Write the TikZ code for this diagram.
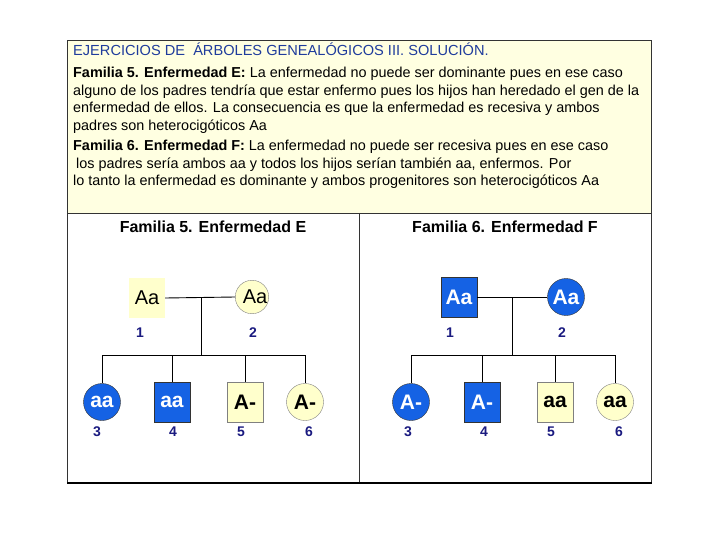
\documentclass[tikz,border=0pt]{standalone}
\usepackage{fontspec}
\setmainfont{Liberation Sans}
\usetikzlibrary{positioning}
\definecolor{cream}{HTML}{FFFFE1}
\definecolor{paleyel}{HTML}{FFFFCC}
\definecolor{sickblue}{HTML}{1562E4}
\definecolor{titleblue}{HTML}{1F3C9C}
\definecolor{navy}{HTML}{1A1A80}
\begin{document}
\begin{tikzpicture}[x=1pt,y=-1pt,
    male/.style={rectangle, minimum width=36pt, minimum height=40pt, inner sep=0pt},
    female/.style={circle, minimum size=37pt, inner sep=0pt},
    sick/.style={fill=sickblue, draw=black!80, text=white},
    healthy/.style={fill=paleyel, draw=black!50},
    geno/.style={font=\fontsize{21}{21}\selectfont\bfseries},
    num/.style={font=\fontsize{14}{14}\selectfont\bfseries, text=navy},
    txt/.style={anchor=base west, inner sep=0pt, font=\fontsize{14.4}{14.4}\selectfont},
    kin/.style={draw=black, line width=0.9pt}]
    \useasboundingbox (0,0) rectangle (720,540);
    % Frame
    \fill[cream] (67,40) rectangle (651,213);
    \draw[black!80, line width=0.8pt] (67,40) rectangle (651,483);
    \draw[black!80, line width=0.8pt] (67,213) -- (651,213);
    \draw[black!80, line width=0.8pt] (359,213) -- (359,483);
    \draw[black, line width=2pt] (67,483) -- (652,483);
    % Explanation text
    \node[txt, text=titleblue, font=\fontsize{14.6}{14.6}\selectfont] (t0) at (73,56) {EJERCICIOS DE \ ÁRBOLES GENEALÓGICOS III. SOLUCIÓN.};
    \node[txt] (t1) at (73,78) {\textbf{Familia 5. Enfermedad E:} La enfermedad no puede ser dominante pues en ese caso};
    \node[txt] (t2) at (73,96) {alguno de los padres tendría que estar enfermo pues los hijos han heredado el gen de la};
    \node[txt] (t3) at (73,113) {enfermedad de ellos. La consecuencia es que la enfermedad es recesiva y ambos};
    \node[txt] (t4) at (73,131) {padres son heterocigóticos Aa};
    \node[txt] (t5) at (73,151) {\textbf{Familia 6. Enfermedad F:} La enfermedad no puede ser recesiva pues en ese caso};
    \node[txt] (t6) at (76,169) {los padres sería ambos aa y todos los hijos serían también aa, enfermos. Por};
    \node[txt] (t7) at (73,186) {lo tanto la enfermedad es dominante y ambos progenitores son heterocigóticos Aa};
    % Headings
    \node[font=\fontsize{16}{16}\selectfont\bfseries] (h5) at (213,227) {Familia 5. Enfermedad E};
    \node[font=\fontsize{16}{16}\selectfont\bfseries] (h6) at (505,227) {Familia 6. Enfermedad F};

    % Familia 5
    \node[male, fill=paleyel, font=\fontsize{20}{20}\selectfont] (a1) at (147,298) {Aa};
    \node[circle, minimum size=29pt, inner sep=0pt, healthy, font=\fontsize{20}{20}\selectfont] (a2) at (252,297) {\hspace{6pt}Aa};
    \node[female, sick, geno] (a3) at (102,402) {aa};
    \node[male, sick, geno] (a4) at (172,402) {aa};
    \node[male, healthy, geno] (a5) at (245,402) {A-};
    \node[female, healthy, geno] (a6) at (305,402) {A-};
    \coordinate (am) at (201,297);
    \coordinate (asl) at (102,355);
    \coordinate (asr) at (305,355);
    \draw[kin] (a1.east) -- (a2.west);
    \draw[kin] (am) -- (am |- asl);
    \draw[kin] (asl) -- (asr);
    \foreach \c in {a3,a4,a5,a6}
        \draw[kin] (\c |- asl) -- (\c.north);
    \node[num] (na1) at (140,333) {1};
    \node[num] (na2) at (253,333) {2};
    \node[num] (na3) at (97,432) {3};
    \node[num] (na4) at (173,432) {4};
    \node[num] (na5) at (241,432) {5};
    \node[num] (na6) at (309,432) {6};

    % Familia 6
    \node[male, sick, geno] (b1) at (459,297) {Aa};
    \node[female, sick, geno] (b2) at (566,297) {Aa};
    \node[female, sick, geno] (b3) at (411,402) {A-};
    \node[male, sick, geno] (b4) at (482,402) {A-};
    \node[male, healthy, geno] (b5) at (555,402) {aa};
    \node[female, healthy, geno] (b6) at (615,402) {aa};
    \coordinate (bm) at (512,297);
    \coordinate (bsl) at (411,355);
    \coordinate (bsr) at (615,355);
    \draw[kin] (b1.east) -- (b2.west);
    \draw[kin] (bm) -- (bm |- bsl);
    \draw[kin] (bsl) -- (bsr);
    \foreach \c in {b3,b4,b5,b6}
        \draw[kin] (\c |- bsl) -- (\c.north);
    \node[num] (nb1) at (450,333) {1};
    \node[num] (nb2) at (562,333) {2};
    \node[num] (nb3) at (408,432) {3};
    \node[num] (nb4) at (484,432) {4};
    \node[num] (nb5) at (551,432) {5};
    \node[num] (nb6) at (619,432) {6};
\end{tikzpicture}
\end{document}
